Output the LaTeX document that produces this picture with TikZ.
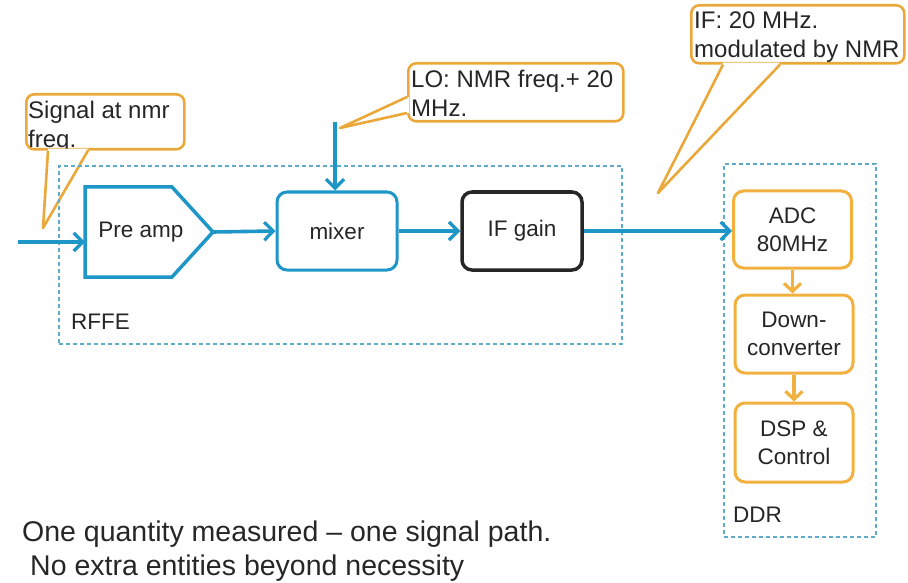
\documentclass[tikz,border=0pt]{standalone}
\usepackage{fontspec}
\setmainfont{Liberation Sans}
\usetikzlibrary{arrows.meta,calc}
\definecolor{flowblue}{RGB}{30,150,200}
\definecolor{dashblue}{RGB}{95,172,200}
\definecolor{callorange}{RGB}{234,168,58}
\definecolor{ddrorange}{RGB}{242,176,62}
\definecolor{txtgray}{RGB}{38,38,38}
\begin{document}
\begin{tikzpicture}[x=1pt,y=-1pt,
  boxtext/.style={font=\fontsize{22.5}{28}\selectfont, text=txtgray, align=center},
  blockbox/.style={boxtext, rounded corners=10pt, minimum width=120pt, minimum height=78pt, inner sep=0pt, fill=white},
  blueblock/.style={blockbox, draw=flowblue, line width=3pt},
  blackblock/.style={blockbox, draw=black!85, line width=3.5pt},
  ddrblock/.style={blockbox, draw=ddrorange, line width=3pt, minimum width=118pt},
  calloutbox/.style={draw=callorange, line width=2.6pt, fill=white, rounded corners=8pt, anchor=north west, inner sep=0pt},
  callouttext/.style={anchor=north west, inner sep=0pt, align=left, font=\fontsize{24}{29}\selectfont, text=txtgray},
  pointer/.style={draw=callorange, line width=2.6pt, line join=round},
  group/.style={draw=dashblue, dash pattern=on 4pt off 3pt, line width=1.8pt, anchor=north west, inner sep=0pt},
  flow/.style={draw=flowblue, line width=3.6pt, -{Straight Barb[length=9pt,width=18pt,line width=3.2pt]}},
  ddrflow/.style={draw=ddrorange, line width=3.6pt, -{Straight Barb[length=8pt,width=17pt,line width=3.2pt]}},
  grouplabel/.style={font=\fontsize{22.5}{28}\selectfont, text=txtgray, anchor=west, inner sep=0pt},
]
\useasboundingbox (0,0) rectangle (908,583);

% ---------- callouts ----------
\node[calloutbox, minimum width=158pt, minimum height=55pt] (sigcall) at (25,93) {};
\node[callouttext] (sigtext) at ($(sigcall.north west)+(3,8)$) {Signal at nmr\\freq.};
\coordinate (sigtip) at (43,228);
\fill[white] ($(sigcall.south west)+(23,-2)$) -- (sigtip) -- ($(sigcall.south west)+(63,-2)$) -- cycle;
\draw[pointer] ($(sigcall.south west)+(23,0)$) -- (sigtip) -- ($(sigcall.south west)+(63,0)$);

\node[calloutbox, minimum width=215pt, minimum height=58pt] (locall) at (407,62) {};
\node[callouttext] (lotext) at ($(locall.north west)+(4,8)$) {LO: NMR freq.+ 20\\MHz.};
\coordinate (lotip) at (340,128);
\fill[white] ($(locall.north west)+(2,35)$) -- (lotip) -- ($(locall.north west)+(2,51)$) -- cycle;
\draw[pointer] ($(locall.north west)+(0,35)$) -- (lotip) -- ($(locall.north west)+(0,51)$);

\node[calloutbox, minimum width=213pt, minimum height=58pt] (ifcall) at (690,4) {};
\node[callouttext] (iftext) at ($(ifcall.north west)+(4,8)$) {IF: 20 MHz.\\modulated by NMR};
\coordinate (iftip) at (658,193);
\fill[white] ($(ifcall.south west)+(33,-2)$) -- (iftip) -- ($(ifcall.south west)+(90,-2)$) -- cycle;
\draw[pointer] ($(ifcall.south west)+(33,0)$) -- (iftip) -- ($(ifcall.south west)+(90,0)$);

% ---------- groups ----------
\node[group, minimum width=563pt, minimum height=178pt] (rffe) at (58,165) {};
\node[grouplabel] (rffelabel) at (71,322) {RFFE};
\node[group, minimum width=152pt, minimum height=373pt] (ddr) at (723,163) {};
\node[grouplabel] (ddrlabel) at (733,515) {DDR};

% ---------- RF front end ----------
\draw[draw=flowblue, line width=3.5pt, line join=miter, fill=white]
  (85,187) -- (172,187) -- (213,232) -- (172,277) -- (85,277) -- cycle;
\node[boxtext] (preamp) at (141,232) {Pre amp};
\coordinate (pretip) at (213,232);
\coordinate (prein) at (85,242);
\coordinate (src) at (18,242);

\node[blueblock] (mixer) at (337,231) {mixer};
\node[blackblock] (ifgain) at (522,231) {IF gain};
\coordinate (lostart) at (335,122);

% ---------- DDR ----------
\node[ddrblock, minimum height=77pt] (adc) at (792.5,229.5) {ADC\\80MHz};
\node[ddrblock] (down) at (794,334) {Down-\\converter};
\node[ddrblock, minimum height=79pt] (dsp) at (794,442.5) {DSP \&\\Control};

% ---------- connectors ----------
\draw[flow] (src) -- (prein);
\draw[flow] (pretip) -- (mixer.west);
\draw[flow] (lostart) -- (lostart |- mixer.north);
\draw[flow] (mixer.east) -- (ifgain.west);
\draw[flow] (ifgain.east) -- (ifgain.east -| adc.west);
\draw[ddrflow] (adc.south) -- (adc.south |- down.north);
\draw[ddrflow] (down.south) -- (dsp.north);

% ---------- caption ----------
\node[anchor=north west, inner sep=0pt, align=left, text=txtgray,
      font=\fontsize{28.5}{34}\selectfont] (caption) at (22,521)
  {One quantity measured – one signal path.\\\hspace*{8pt}No extra entities beyond necessity};
\end{tikzpicture}
\end{document}
